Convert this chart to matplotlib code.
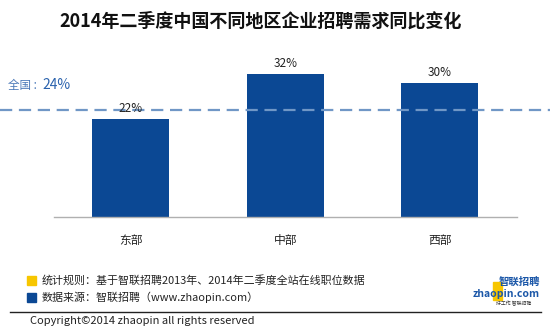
import matplotlib
matplotlib.use("Agg")
import matplotlib.pyplot as plt
from matplotlib.patches import Rectangle
from matplotlib.lines import Line2D
from matplotlib.transforms import blended_transform_factory

plt.rcParams['font.family'] = ['Noto Sans CJK SC', 'DejaVu Sans']

regions = ["东部", "中部", "西部"]
growth = [22, 32, 30]
national = 24

title = "2014年二季度中国不同地区企业招聘需求同比变化"
note_rule = "统计规则：基于智联招聘2013年、2014年二季度全站在线职位数据"
note_source = "数据来源：智联招聘（www.zhaopin.com）"
copyright_text = "Copyright©2014 zhaopin all rights reserved"

bar_color = "#0b4894"
dash_color = "#7097c6"

fig = plt.figure(figsize=(5.5, 3.33), dpi=100)
ax = fig.add_axes([0.0975, 0.3483, 0.842, 0.470])

x = list(range(len(regions)))
ax.bar(x, growth, width=0.5, color=bar_color, zorder=2)
for xi, v in zip(x, growth):
    ax.text(xi, v + 0.8, f"{v}%", ha="center", va="bottom", fontsize=8.5,
            color="#222222", zorder=4)

ax.set_xlim(-0.5, 2.5)
ax.set_ylim(0, 35)
ax.set_xticks(x)
ax.set_xticklabels(regions, fontsize=8.5, color="#222222")
ax.tick_params(axis="x", length=0, pad=12)
ax.set_yticks([])
for s in ["top", "right", "left"]:
    ax.spines[s].set_visible(False)
ax.spines["bottom"].set_color("#b0b0b0")
ax.spines["bottom"].set_linewidth(1.0)

# national average line across the whole figure width
trans = blended_transform_factory(fig.transFigure, ax.transData)
ax.add_line(Line2D([0, 1], [national, national], transform=trans,
                   color=dash_color, lw=1.6, dashes=(5.5, 3), clip_on=False,
                   zorder=3))
ax.text(0.015, national + 5.5, "全国 :", transform=trans,
        fontsize=8.3, color="#4a78b8", ha="left", va="center")
ax.text(0.077, national + 5.5, f"{national}%", transform=trans,
        fontsize=10, color="#2a62ad", ha="left", va="center")

fig.text(0.473, 0.937, title, ha="center", va="center", fontsize=13,
         fontweight="bold", color="#111111")

# footer notes
fig.patches.append(Rectangle((27 / 550, 1 - 285 / 333), 9 / 550, 9 / 333,
                             transform=fig.transFigure, color="#f7c600"))
fig.patches.append(Rectangle((27 / 550, 1 - 302 / 333), 9 / 550, 9 / 333,
                             transform=fig.transFigure, color="#0b4894"))
fig.text(42 / 550, 1 - 280 / 333, note_rule, fontsize=7.9, va="center",
         color="#222222")
fig.text(42 / 550, 1 - 297 / 333, note_source, fontsize=7.9, va="center",
         color="#222222")
fig.add_artist(Line2D([10 / 550, 541 / 550], [1 - 312 / 333, 1 - 312 / 333],
                      transform=fig.transFigure, color="#222222", lw=1.0))
fig.text(30 / 550, 1 - 321 / 333, copyright_text, fontsize=8, va="center",
         color="#222222")

# logo
fig.patches.append(Rectangle((493 / 550, 1 - 300 / 333), 9 / 550, 18 / 333,
                             transform=fig.transFigure, color="#f7c600"))
fig.text(540 / 550, 1 - 282 / 333, "智联招聘", fontsize=7.5, fontweight="bold",
         ha="right", va="center", color="#1b57a8")
fig.text(540 / 550, 1 - 294 / 333, "zhaopin.com", fontsize=7.5,
         fontweight="bold", ha="right", va="center", color="#1b57a8")
fig.text(531 / 550, 1 - 304 / 333, "好工作 智联招聘", fontsize=3.5,
         ha="right", va="center", color="#333333")

fig.savefig("out.png", dpi=100)
